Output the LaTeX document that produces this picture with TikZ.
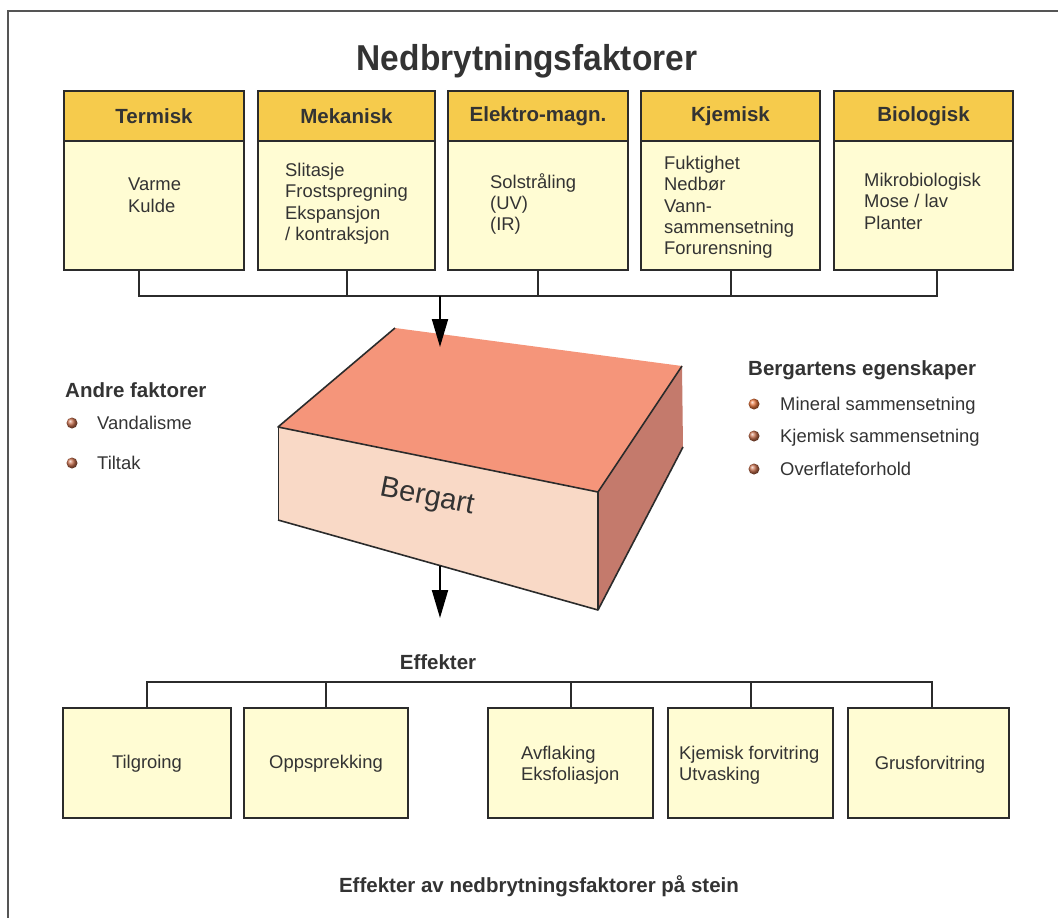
\documentclass[tikz,border=0pt]{standalone}
\usepackage{fontspec}
\setmainfont{Liberation Sans}
\usetikzlibrary{arrows.meta}
\definecolor{hdrc}{HTML}{F6CB4C}
\definecolor{bodyc}{HTML}{FFFCD3}
\definecolor{edgec}{HTML}{2B2B2B}
\definecolor{txtc}{HTML}{333333}
\definecolor{topf}{HTML}{F5957A}
\definecolor{frontf}{HTML}{F9D9C6}
\definecolor{rightf}{HTML}{C47A6C}
\definecolor{bulc}{HTML}{C8704E}
\definecolor{bulm}{HTML}{E8753C}
\definecolor{framec}{HTML}{555555}
\begin{document}
\begin{tikzpicture}[x=1pt,y=-1pt,
  hbox/.style={draw=edgec, line width=2pt, fill=hdrc, minimum height=50pt, inner sep=0pt, outer sep=0pt,
    font=\fontsize{20.5}{24}\selectfont\bfseries, text=txtc},
  bbox/.style={draw=edgec, line width=2pt, fill=bodyc, inner sep=0pt, outer sep=0pt},
  btxt/.style={anchor=north west, inner sep=0pt, align=left, font=\fontsize{18.4}{21.3}\selectfont, text=txtc},
  ctxt/.style={anchor=base, inner sep=0pt, font=\fontsize{18.4}{21.3}\selectfont, text=txtc},
  ltxt/.style={anchor=base west, inner sep=0pt, font=\fontsize{18.4}{21.3}\selectfont, text=txtc},
  lbl/.style={inner sep=0pt, font=\fontsize{20.5}{24}\selectfont\bfseries, text=txtc},
  conn/.style={draw=edgec, line width=2pt},
  arr/.style={draw=black, line width=2pt, -{Triangle[length=28pt,width=16pt]}},
  bullet/.style={ball color=#1},
]
\useasboundingbox (0,0) rectangle (1058,918);
% frame
\draw[framec, line width=2pt] (8,918) -- (8,11) -- (1058,11);

% title
\node[anchor=base, inner sep=0pt, font=\fontsize{36}{40}\selectfont\bfseries, text=txtc] (title) at (527,70)
  {\scalebox{0.93}[1]{Nedbrytningsfaktorer}};

% header boxes
\node[hbox, minimum width=180pt] (h1) at (154,116) {Termisk};
\node[hbox, minimum width=177pt] (h2) at (346.5,116) {Mekanisk};
\node[hbox, minimum width=180pt] (h3) at (538,116) {Elektro-magn.};
\node[hbox, minimum width=179pt] (h4) at (730.5,116) {Kjemisk};
\node[hbox, minimum width=179pt] (h5) at (923.5,116) {Biologisk};
% body boxes
\node[bbox, minimum width=180pt, minimum height=129pt, anchor=north] (b1) at (h1.south) {};
\node[bbox, minimum width=177pt, minimum height=129pt, anchor=north] (b2) at (h2.south) {};
\node[bbox, minimum width=180pt, minimum height=129pt, anchor=north] (b3) at (h3.south) {};
\node[bbox, minimum width=179pt, minimum height=129pt, anchor=north] (b4) at (h4.south) {};
\node[bbox, minimum width=179pt, minimum height=129pt, anchor=north] (b5) at (h5.south) {};
% body texts
\node[btxt] (t1) at (128,178) {Varme\\Kulde};
\node[btxt] (t2) at (285,163) {Slitasje\\Frostspregning\\Ekspansjon\\/ kontraksjon};
\node[btxt] (t3) at (490,173) {Solstråling\\(UV)\\(IR)};
\node[btxt] (t4) at (664,156) {Fuktighet\\Nedbør\\Vann-\\sammensetning\\Forurensning};
\node[btxt] (t5) at (864,173) {Mikrobiologisk\\Mose / lav\\Planter};

% top bus
\coordinate (busL) at (139,296);
\coordinate (busR) at (937,296);
\coordinate (arrTop) at (440,296);
\draw[conn] (b1.south -| busL) -- (busL) -- (busR) -- (b5.south -| busR);
\draw[conn] (b2.south) -- (b2.south |- busL);
\draw[conn] (b3.south) -- (b3.south |- busL);
\draw[conn] (b4.south) -- (b4.south |- busL);

% block
\coordinate (A) at (395,328);
\coordinate (B) at (682,366);
\coordinate (C) at (598,492);
\coordinate (D) at (278,427);
\coordinate (E) at (278,520);
\coordinate (F) at (598,610);
\coordinate (G) at (683,447);
\fill[topf] (A) -- (B) -- (C) -- (D) -- cycle;
\fill[frontf] (D) -- (C) -- (F) -- (E) -- cycle;
\fill[rightf] (C) -- (B) -- (G) -- (F) -- cycle;
\draw[edgec, line width=1.6pt, line join=round] (A) -- (D) -- (C) -- (B);
\draw[edgec, line width=1.6pt, line join=round] (C) -- (F);
\draw[edgec, line width=1.6pt, line join=round] (E) -- (F) -- (G);
\draw[edgec, line width=1pt] (D) -- (E);
\node[rotate=-11, inner sep=0pt, font=\fontsize{29}{32}\selectfont, text=txtc] (berg) at (427,498) {Bergart};

\coordinate (blockTop) at (440,347);
\coordinate (blockBot) at (440,566);
\coordinate (arrBot) at (440,618);
\draw[arr] (arrTop) -- (blockTop);
\draw[arr] (blockBot) -- (arrBot);

% Andre faktorer
\node[lbl, anchor=base west] (andre) at (65,397) {Andre faktorer};
\shade[bullet=bulc] (72,423) circle (5.5);
\node[ltxt] (vand) at (97,429.6) {Vandalisme};
\shade[bullet=bulc] (72,463) circle (5.5);
\node[ltxt] (tilt) at (97,469.6) {Tiltak};

% Bergartens egenskaper
\node[lbl, anchor=base west] (egensk) at (748,375) {Bergartens egenskaper};
\shade[bullet=bulm] (754,404) circle (5.5);
\node[ltxt] (e1) at (780,410.6) {Mineral sammensetning};
\shade[bullet=bulc] (754,436) circle (5.5);
\node[ltxt] (e2) at (780,442.6) {Kjemisk sammensetning};
\shade[bullet=bulc] (754,469) circle (5.5);
\node[ltxt] (e3) at (780,475.6) {Overflateforhold};

% Effekter
\node[lbl, anchor=base] (eff) at (438,669) {Effekter};
\node[bbox, minimum width=168pt, minimum height=110pt] (c1) at (147,763) {};
\node[bbox, minimum width=164pt, minimum height=110pt] (c2) at (326,763) {};
\node[bbox, minimum width=165pt, minimum height=110pt] (c3) at (570.5,763) {};
\node[bbox, minimum width=165pt, minimum height=110pt] (c4) at (750.5,763) {};
\node[bbox, minimum width=161pt, minimum height=110pt] (c5) at (928.5,763) {};
\coordinate (eL) at (147,682);
\coordinate (eR) at (932,682);
\draw[conn] (c1.north) -- (c1.north |- eL) -- (eR) -- (eR |- c5.north);
\draw[conn] (c2.north) -- (c2.north |- eL);
\draw[conn] (c3.north) -- (c3.north |- eL);
\draw[conn] (c4.north) -- (c4.north |- eL);
\node[ctxt] (d1) at (147,768.5) {Tilgroing};
\node[ctxt] (d2) at (326,768.5) {Oppsprekking};
\node[btxt] (d3) at (521,746) {Avflaking\\Eksfoliasjon};
\node[btxt] (d4) at (679,746) {Kjemisk forvitring\\Utvasking};
\node[ctxt] (d5) at (930,769.5) {Grusforvitring};

% caption
\node[lbl, anchor=base] (cap) at (539,892) {Effekter av nedbrytningsfaktorer på stein};
\end{tikzpicture}
\end{document}
